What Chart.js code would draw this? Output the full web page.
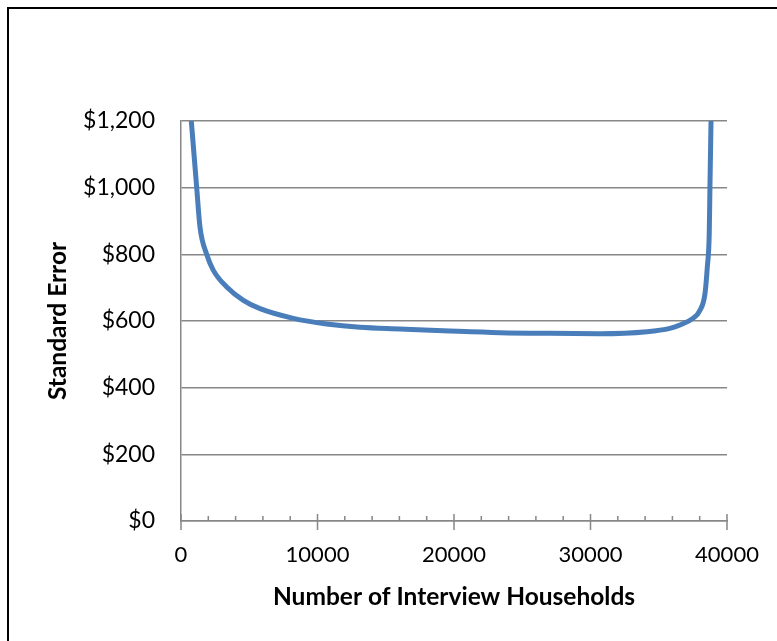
<!DOCTYPE html>
<html>
<head>
<meta charset="utf-8">
<script src="https://cdn.jsdelivr.net/npm/chart.js@4"></script>
<style>
  html, body { margin: 0; padding: 0; background: #fff; overflow: hidden; }
  #wrap { position: relative; width: 777px; height: 641px; }
  #frame { position: absolute; left: 7px; top: 7px; width: 800px; height: 700px; border: 2px solid #000; box-sizing: border-box; }
  canvas { position: absolute; left: 0; top: 0; }
</style>
</head>
<body>
<div id="wrap">
  <div id="frame"></div>
  <canvas id="seChart" width="777" height="641"></canvas>
</div>
<script>
// Values
const householdCounts = [755, 1150, 1390, 1880, 2370, 3350, 4570, 5790, 8230, 10670, 13110, 16040, 19700, 23370, 27000, 30700, 34140, 35820, 36560, 37500, 38020, 38390, 38560, 38700, 38750, 38830];
const standardErrors = [1200, 1000, 882, 800, 752, 702, 662, 637, 608, 591, 581, 576, 570, 565, 563, 562, 568, 578, 588, 608, 632, 683, 763, 863, 1000, 1200];

const xMajorTicks = [0, 10000, 20000, 30000, 40000];
const xMinorTicks = [2000, 4000, 6000, 8000, 12000, 14000, 16000, 18000, 22000, 24000, 26000, 28000, 32000, 34000, 36000, 38000];
const yTicks = [0, 200, 400, 600, 800, 1000, 1200];

const FONT = "Lato, 'Open Sans', sans-serif";
const AXIS_GREY = '#878787';

// Excel-style tick marks: majors cross the axis, minors sit inside
const axisTicks = {
    id: 'axisTicks',
    afterDatasetsDraw(chart) {
        const ctx = chart.ctx;
        const xs = chart.scales.x;
        const y0 = chart.scales.y.getPixelForValue(0);
        ctx.save();
        ctx.strokeStyle = AXIS_GREY;
        ctx.lineWidth = 1.5;
        ctx.beginPath();
        xMajorTicks.forEach(v => {
            const px = xs.getPixelForValue(v);
            ctx.moveTo(px, y0 - 7);
            ctx.lineTo(px, y0 + 9);
        });
        xMinorTicks.forEach(v => {
            const px = xs.getPixelForValue(v);
            ctx.moveTo(px, y0 - 5);
            ctx.lineTo(px, y0);
        });
        ctx.stroke();
        ctx.restore();
    }
};

const points = householdCounts.map((x, i) => ({ x: x, y: standardErrors[i] }));

new Chart(document.getElementById('seChart').getContext('2d'), {
    type: 'line',
    data: {
        datasets: [{
            data: points,
            borderColor: '#4a7ebb',
            borderWidth: 5,
            pointRadius: 0,
            fill: false,
            cubicInterpolationMode: 'monotone'
        }]
    },
    options: {
        responsive: false,
        animation: false,
        events: [],
        layout: {
            padding: { left: 43, right: 50, top: 121, bottom: 25 }
        },
        plugins: {
            legend: { display: false },
            tooltip: { enabled: false }
        },
        scales: {
            x: {
                type: 'linear',
                min: 0,
                max: 40000,
                afterBuildTicks: s => { s.ticks = xMajorTicks.map(v => ({ value: v })); },
                afterFit: s => { s.height = 95; },
                grid: { display: false },
                border: { display: true, color: AXIS_GREY, width: 1.5 },
                ticks: {
                    color: '#000',
                    font: { family: FONT, size: 22 },
                    padding: 13,
                    maxRotation: 0,
                    callback: v => String(v)
                },
                title: {
                    display: true,
                    text: 'Number of Interview Households',
                    color: '#000',
                    font: { family: FONT, size: 24.5, weight: 'bold' },
                    padding: { top: 4, bottom: 4 }
                }
            },
            y: {
                min: 0,
                max: 1200,
                afterBuildTicks: s => { s.ticks = yTicks.map(v => ({ value: v })); },
                afterFit: s => { s.width = 138; },
                grid: { color: AXIS_GREY, lineWidth: 1.5, drawTicks: false },
                border: { display: true, color: AXIS_GREY, width: 1.5 },
                ticks: {
                    color: '#000',
                    font: { family: FONT, size: 23 },
                    padding: 26,
                    callback: v => '$' + v.toLocaleString('en-US')
                },
                title: {
                    display: true,
                    text: 'Standard Error',
                    color: '#000',
                    font: { family: FONT, size: 24.5, weight: 'bold' },
                    padding: { top: 0, bottom: 0 }
                }
            }
        }
    },
    plugins: [axisTicks]
});
</script>
</body>
</html>
